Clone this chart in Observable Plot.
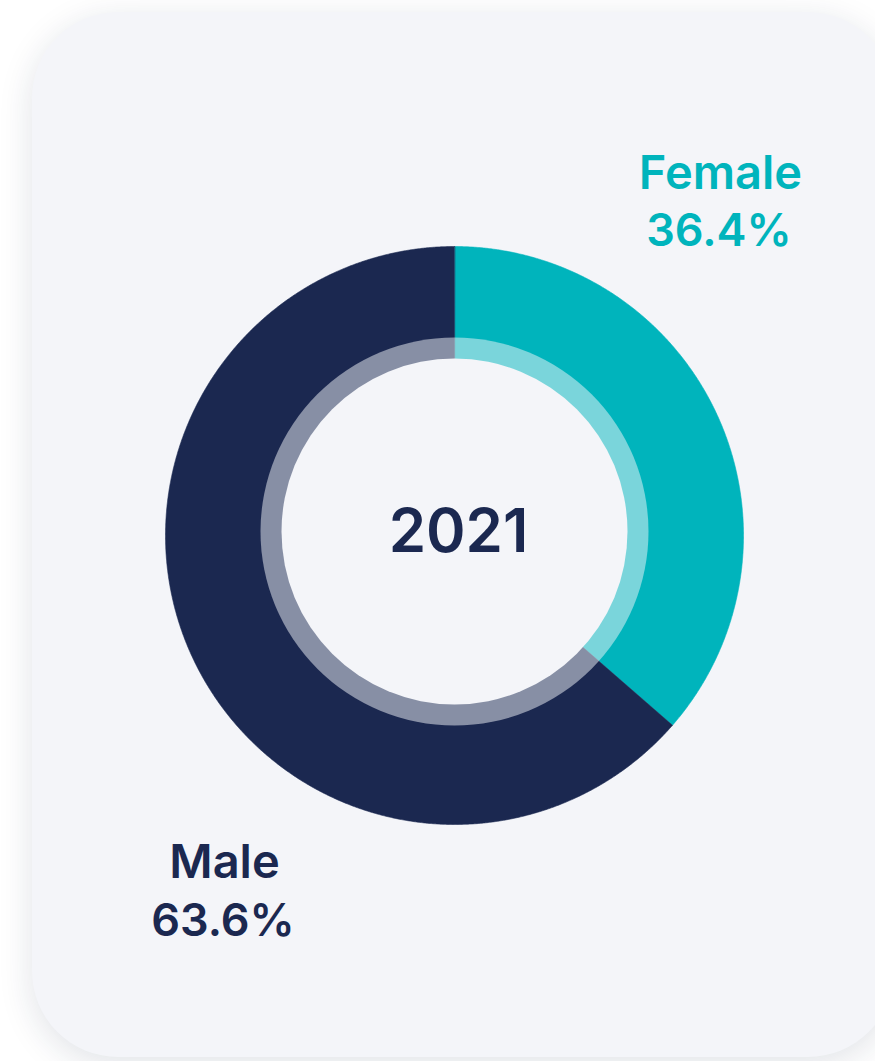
<!DOCTYPE html>
<html><head><meta charset="utf-8">
<script src="https://cdn.jsdelivr.net/npm/d3@7"></script>
<script src="https://cdn.jsdelivr.net/npm/@observablehq/plot@0.6"></script>
<style>
html,body{margin:0;padding:0;background:#fff;width:875px;height:1061px;overflow:hidden;font-family:Inter,sans-serif}
#card{position:absolute;left:32px;top:12px;width:862px;height:1045px;border-radius:86px;background:#f4f5f9;box-shadow:0 8px 34px rgba(25,35,70,0.13)}
#chart{position:absolute;left:0;top:0}
</style></head><body>
<div id="card"></div><div id="chart"></div>
<script>
// ---- data ----
const categories = ["Female", "Male"];
const shares = [36.4, 63.6];
const shareLabels = ["36.4%", "63.6%"];
const year = "2021";
const colors = ["#00b4bc", "#1b2850"];

// ---- layout constants ----
const W = 875, H = 1061, CX = 454, CY = 535;
const R_OUT = 289, RING_OUT = 194, RING_IN = 173, RING_DY = 4;
const BG = "#f4f5f9";
const labelAnchor = {Female: {x: 266, name: 362, pct: 304}, Male: {x: -230, name: -327, pct: -386}};

const rows = categories.map((c, i) => ({cat: c, share: shares[i], label: shareLabels[i]}));
const arcs = d3.pie().sort(null).value(d => d.share)(rows);

const polys = [];
const step = Math.PI / 720;
for (const a of arcs) {
  polys.push({cat: a.data.cat, x: 0, y: 0});
  for (let t = a.startAngle; t < a.endAngle; t += step) {
    polys.push({cat: a.data.cat, x: R_OUT * Math.sin(t), y: R_OUT * Math.cos(t)});
  }
  polys.push({cat: a.data.cat, x: R_OUT * Math.sin(a.endAngle), y: R_OUT * Math.cos(a.endAngle)});
}

const font = "Inter, 'Noto Sans', sans-serif";
const chart = Plot.plot({
  width: W, height: H, margin: 0,
  style: {background: "transparent", overflow: "visible"},
  x: {domain: [-CX, W - CX], axis: null},
  y: {domain: [-(H - CY), CY], axis: null},
  color: {domain: categories, range: colors},
  marks: [
    Plot.line(polys, {x: "x", y: "y", z: "cat", fill: "cat", stroke: "cat", strokeWidth: 0.6, curve: "linear-closed"}),
    Plot.dot([{x: 0, y: RING_DY}], {x: "x", y: "y", r: RING_OUT, fill: BG, fillOpacity: 0.5, stroke: null}),
    Plot.dot([{x: 0, y: RING_DY}], {x: "x", y: "y", r: RING_IN, fill: BG, stroke: null}),
    Plot.text([year], {x: () => 4, y: () => 2.5, text: d => d, fontSize: 60, fontWeight: 600, fontFamily: font, fill: colors[1], textAnchor: "middle", lineAnchor: "middle"}),
    Plot.text(rows, {x: d => labelAnchor[d.cat].x, y: d => labelAnchor[d.cat].name, text: "cat", fill: "cat", fontSize: 47, fontWeight: 600, fontFamily: font, textAnchor: "middle", lineAnchor: "middle"}),
    Plot.text(rows, {x: d => labelAnchor[d.cat].x - 1.5, y: d => labelAnchor[d.cat].pct, text: "label", fill: "cat", fontSize: 45, fontWeight: 600, fontFamily: font, textAnchor: "middle", lineAnchor: "middle"})
  ]
});
document.getElementById("chart").appendChild(chart);
</script>
</body></html>
